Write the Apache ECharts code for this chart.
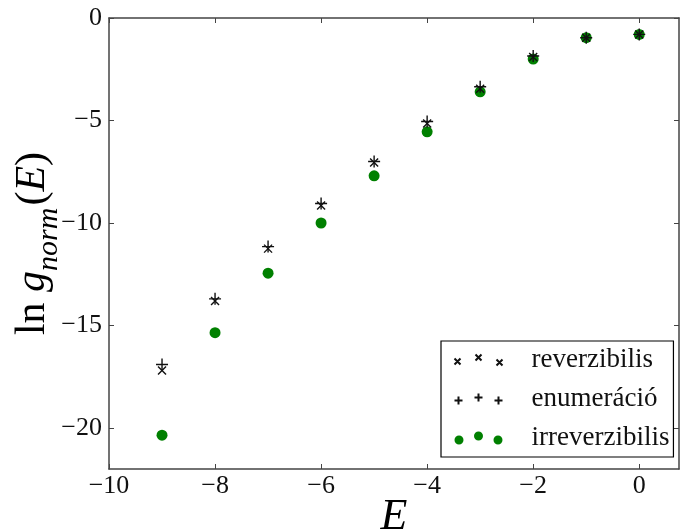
<!DOCTYPE html>
<html>
<head>
<meta charset="utf-8">
<script src="https://cdn.jsdelivr.net/npm/echarts@6/dist/echarts.min.js"></script>
<style>
  html, body { margin: 0; padding: 0; background: #fff; }
  #container { width: 683px; height: 532px; }
</style>
</head>
<body>
<div id="container"></div>
<script>
const energies = [-9, -8, -7, -6, -5, -4, -3, -2, -1, 0];
const reverzibilis = [-17.2, -13.8, -11.25, -9.15, -7.05, -5.15, -3.45, -1.9, -0.96, -0.8];
const enumeracio = [-16.9, -13.7, -11.15, -9.05, -7.0, -5.05, -3.35, -1.85, -0.96, -0.8];
const irreverzibilis = [-20.35, -15.35, -12.45, -10.0, -7.7, -5.55, -3.6, -2.0, -0.96, -0.8];
const xTicks = [-10, -8, -6, -4, -2, 0];
const yTicks = [-20, -15, -10, -5, 0];

const dom = document.getElementById("container");
const myChart = echarts.init(dom, null, { renderer: "canvas" });

const serif = "Liberation Serif";
const minus = (v) => String(v).replace("-", "\u2212");
const pairs = (ys) => energies.map((x, i) => [x, ys[i]]);

const crossPath = "path://M0,0L8,8M8,0L0,8";
const plusPath = "path://M5,0L5,10M0,5L10,5";

const spine = { onZero: false, lineStyle: { color: "#444", width: 1.5 } };
const ticks = (vals) => ({ inside: true, length: 5, customValues: vals, lineStyle: { color: "#444" } });

const option = {
  animation: false,
  grid: { left: 109, right: 4, top: 18, bottom: 63, outerBoundsMode: "none", containLabel: false },
  legend: {
    orient: "vertical",
    left: 441,
    top: 341,
    padding: [5, 4, 5, 11],
    itemGap: 11,
    itemWidth: 48,
    itemHeight: 15,
    borderColor: "#000",
    borderWidth: 1.2,
    textStyle: { fontFamily: serif, fontSize: 27, color: "#111", lineHeight: 28, padding: [0, 0, 0, 24] },
    data: [
      { name: "reverzibilis", icon: "path://M0,7L6,13M6,7L0,13M21,3L27,9M27,3L21,9M42,8L48,14M48,8L42,14" },
      { name: "enumeráció", icon: "path://M0,10L8,10M4,6L4,14M20,7L28,7M24,3L24,11M40,10L48,10M44,6L44,14" },
      { name: "irreverzibilis", icon: "path://M0,10a4.5,4.5 0 1,0 9,0a4.5,4.5 0 1,0 -9,0zM19.5,6a4.5,4.5 0 1,0 9,0a4.5,4.5 0 1,0 -9,0zM39,10a4.5,4.5 0 1,0 9,0a4.5,4.5 0 1,0 -9,0z" }
    ]
  },
  xAxis: [
    {
      type: "value",
      min: -10,
      max: 0.75,
      name: "E",
      nameLocation: "middle",
      nameGap: 26,
      nameMoveOverlap: false,
      nameTextStyle: { fontFamily: serif, fontStyle: "italic", fontSize: 44, color: "#000" },
      axisLine: spine,
      axisTick: ticks(xTicks),
      axisLabel: {
        customValues: xTicks,
        formatter: minus,
        fontFamily: serif,
        fontSize: 26,
        color: "#111",
        margin: 4
      },
      splitLine: { show: false }
    },
    {
      type: "value",
      position: "top",
      min: -10,
      max: 0.75,
      axisLine: spine,
      axisTick: ticks(xTicks),
      axisLabel: { show: false },
      splitLine: { show: false }
    }
  ],
  yAxis: [
    {
      type: "value",
      min: -22,
      max: 0,
      name: "{a|ln }{b|g}{s|norm}{a|(}{b|E}{a|)}",
      nameLocation: "middle",
      nameGap: 55,
      nameMoveOverlap: false,
      nameTextStyle: {
        rich: {
          a: { fontFamily: serif, fontSize: 42, color: "#000", verticalAlign: "bottom", lineHeight: 50 },
          b: { fontFamily: serif, fontStyle: "italic", fontSize: 42, color: "#000", verticalAlign: "bottom", lineHeight: 50 },
          s: { fontFamily: serif, fontStyle: "italic", fontSize: 30, color: "#000", verticalAlign: "bottom", lineHeight: 50, padding: [0, 2, -10, 0] }
        }
      },
      axisLine: spine,
      axisTick: ticks(yTicks),
      axisLabel: {
        customValues: yTicks,
        formatter: minus,
        fontFamily: serif,
        fontSize: 26,
        color: "#111",
        margin: 7
      },
      splitLine: { show: false }
    },
    {
      type: "value",
      position: "right",
      min: -22,
      max: 0,
      axisLine: spine,
      axisTick: ticks(yTicks),
      axisLabel: { show: false },
      splitLine: { show: false }
    }
  ],
  series: [
    {
      name: "irreverzibilis",
      type: "scatter",
      data: pairs(irreverzibilis),
      symbol: "circle",
      symbolSize: 11,
      itemStyle: { color: "#008000", opacity: 1 },
      z: 2
    },
    {
      name: "reverzibilis",
      type: "scatter",
      data: pairs(reverzibilis),
      symbol: crossPath,
      symbolSize: 8,
      itemStyle: { color: "none", borderColor: "#111", borderWidth: 1.4, opacity: 1 },
      z: 3
    },
    {
      name: "enumeráció",
      type: "scatter",
      data: pairs(enumeracio),
      symbol: plusPath,
      symbolSize: 12,
      itemStyle: { color: "none", borderColor: "#111", borderWidth: 1.4, opacity: 1 },
      z: 4
    }
  ]
};

myChart.setOption(option);
window.addEventListener("resize", myChart.resize);
</script>
</body>
</html>
